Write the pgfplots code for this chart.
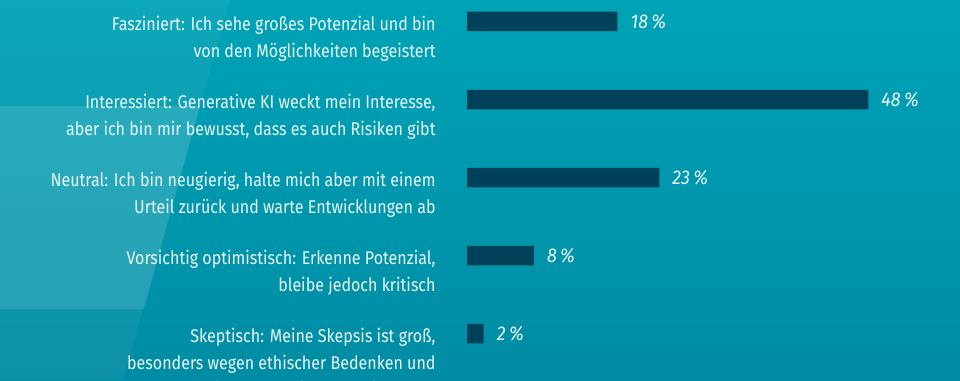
\documentclass[border=0pt]{standalone}
\usepackage{pgfplots}
\pgfplotsset{compat=1.18}
\usepackage{fontspec}
\setmainfont{Fira Sans}
\newfontfamily\labfont[FakeStretch=0.87]{Fira Sans}
\newfontfamily\valfont[FakeStretch=0.9]{Fira Sans}
\definecolor{bgtop}{HTML}{00A3B7}
\definecolor{bgbot}{HTML}{008CA4}
\definecolor{barc}{HTML}{00415A}
\definecolor{txt}{HTML}{E9F6F8}
\begin{document}
\begin{tikzpicture}[x=1bp,y=1bp]
\shade[top color=bgtop,bottom color=bgbot] (0,0) rectangle (960,380);
\fill[white,opacity=0.05] (0,380)--(230,380)--(123,0)--(0,0)--cycle;
\fill[white,opacity=0.11] (0,274)--(200,274)--(144,71)--(0,71)--cycle;
\useasboundingbox (0,0) rectangle (960,380);
\begin{axis}[
  at={(467bp,0bp)}, anchor=south west,
  scale only axis, width=501.6bp, height=380bp,
  xmin=0, xmax=60, ymin=-0.2756, ymax=4.596, y dir=reverse,
  xbar, bar width=19.5bp,
  axis line style={draw=none}, major tick style={draw=none},
  xtick=\empty, ytick={0,1,2,3,4},
  yticklabels={
    {\strut Fasziniert: Ich sehe großes Potenzial und bin\\von den Möglichkeiten begeistert},
    {\strut Interessiert: Generative KI weckt mein Interesse,\\aber ich bin mir bewusst, dass es auch Risiken gibt},
    {\strut Neutral: Ich bin neugierig, halte mich aber mit einem\\Urteil zurück und warte Entwicklungen ab},
    {\strut Vorsichtig optimistisch: Erkenne Potenzial,\\bleibe jedoch kritisch},
    {\strut Skeptisch: Meine Skepsis ist groß,\\besonders wegen ethischer Bedenken und\\möglichen negativen Auswirkungen}},
  yticklabel style={font=\labfont\fontsize{18.5}{27}\selectfont, text=txt, align=right, anchor=north east, inner sep=0pt, xshift=-27bp, yshift=10.4bp},
  /pgf/number format/assume math mode=true,
  nodes near coords={\pgfmathprintnumber{\pgfplotspointmeta}\,\%},
  every node near coord/.append style={font=\valfont\itshape\fontsize{20}{24}\selectfont, text=txt, anchor=west, inner sep=0pt, xshift=13bp},
  clip=false
]
\addplot[fill=barc, draw=none] coordinates {(18,0) (48,1) (23,2) (8,3) (2,4)};
\end{axis}
\end{tikzpicture}
\end{document}
